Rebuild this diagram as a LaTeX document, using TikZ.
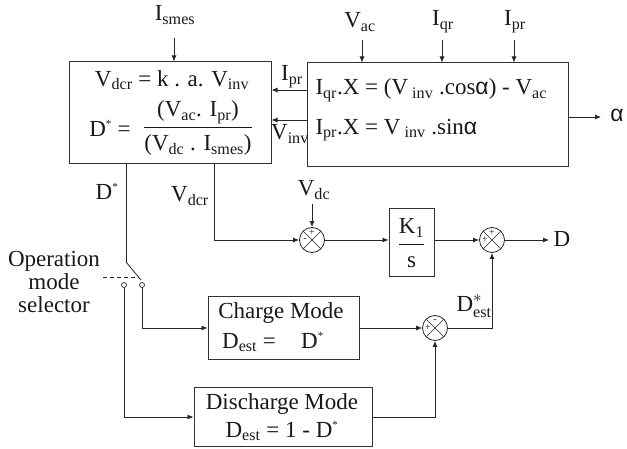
\documentclass[tikz,border=0pt]{standalone}
\usepackage{fontspec}
\setmainfont{Liberation Serif}
\newfontfamily\alphafont{Liberation Sans}
\usepackage{amsmath}
\usetikzlibrary{arrows.meta,calc}
\newcommand{\ssub}[1]{\textsubscript{#1}}
\newcommand{\ssup}[1]{\textsuperscript{\fontsize{11}{11}\selectfont #1}}
\begin{document}
\begin{tikzpicture}[x=1pt,y=-1pt,
  font=\fontsize{23}{25}\selectfont,
  every node/.style={text=black!90},
  blk/.style={draw=black!80, line width=1pt, inner sep=0pt},
  wire/.style={draw=black!85, line width=0.8pt},
  conn/.style={wire, -{Latex[length=6pt,width=5pt]}},
  sgn/.style={font=\fontsize{10}{10}\selectfont, inner sep=0pt},
  sumj/.style={circle, draw=black!85, line width=0.8pt, minimum size=25pt, inner sep=0pt,
    path picture={
      \draw[black!85, line width=0.6pt] ($(path picture bounding box.center)+(45:12.5pt)$) -- ($(path picture bounding box.center)+(225:12.5pt)$);
      \draw[black!85, line width=0.6pt] ($(path picture bounding box.center)+(135:12.5pt)$) -- ($(path picture bounding box.center)+(315:12.5pt)$);
    }},
  contact/.style={circle, draw=black!85, line width=0.7pt, minimum size=5pt, inner sep=0pt, fill=white}
]
\useasboundingbox (0,0) rectangle (627,449);

% ---------- left block ----------
\node[blk, minimum width=202pt, minimum height=102pt] (calc) at (170,113) {};
\node (calc1) at (172,80) {V\ssub{dcr} = k . a. V\ssub{inv}};
\node (calc2) at (110,128) {D\ssup{*} =};
\node (calc3) at (198,128) {$\displaystyle\frac{\text{(V\ssub{ac}. I\ssub{pr})}}{\text{(V\ssub{dc} . I\ssub{smes})}}$};

% ---------- right block ----------
\node[blk, minimum width=261pt, minimum height=104pt] (ctrl) at (437.5,115) {};
\node[anchor=west] (ctrl1) at (312,90) {I\ssub{qr}.X = (V\ssub{ inv} .cos{\alphafont α}) - V\ssub{ac}};
\node[anchor=west] (ctrl2) at (312,130) {I\ssub{pr}.X = V\ssub{ inv} .sin{\alphafont α}};

% ---------- inputs ----------
\node (ismes) at (175,15) {I\ssub{smes}};
\coordinate (ismesA) at (174,38);
\draw[conn] (ismesA) -- (ismesA |- calc.north);

\node (vac) at (360,22) {V\ssub{ac}};
\coordinate (vacA) at (362,40);
\draw[conn] (vacA) -- (vacA |- ctrl.north);
\node (iqr) at (443,22) {I\ssub{qr}};
\coordinate (iqrA) at (442,40);
\draw[conn] (iqrA) -- (iqrA |- ctrl.north);
\node (ipr) at (515,22) {I\ssub{pr}};
\coordinate (iprA) at (514,40);
\draw[conn] (iprA) -- (iprA |- ctrl.north);

% ---------- links between blocks ----------
\coordinate (rowI) at (0,90);
\coordinate (rowV) at (0,120);
\draw[conn] (ctrl.west |- rowI) -- (calc.east |- rowI);
\draw[conn] (ctrl.west |- rowV) -- (calc.east |- rowV);
\node (lipr) at (292,77) {I\ssub{pr}};
\node (lvinv) at (290,134) {V\ssub{inv}};

% alpha output
\coordinate (alA) at (601,117);
\draw[conn] (ctrl.east |- alA) -- (alA);
\node[font=\alphafont\fontsize{23}{25}\selectfont] (alph) at (617,115) {α};

% ---------- D* and switch ----------
\coordinate (piv) at (126,262);
\draw[wire] (calc.south -| piv) -- (piv);
\node (dst) at (107,191) {D\ssup{*}};
\coordinate (blade) at (141,280);
\draw[wire] (piv) -- (blade);
\node[contact] (cl) at (124,285) {};
\node[contact] (cr) at (142,285) {};
\coordinate (dashA) at (103,277);
\coordinate (dashB) at (136,277);
\draw[wire, dashed, dash pattern=on 4pt off 3pt] (dashA) -- (dashB);
\node[align=center, font=\fontsize{23}{23}\selectfont] (sel) at (54,282) {Operation\\mode\\selector};

% ---------- mode blocks ----------
\node[blk, minimum width=151pt, minimum height=62pt] (chg) at (283.5,328) {};
\node (chg1) at (281,313) {Charge Mode};
\node (chg2) at (273,342) {D\ssub{est} =\hspace{1.1em}D\ssup{*}};
\node[blk, minimum width=178pt, minimum height=59pt] (dis) at (283,417) {};
\node (dis1) at (282,404) {Discharge Mode};
\node (dis2) at (282,431) {D\ssub{est} = 1 - D\ssup{*}};

\draw[conn] (cr.south) |- (chg.west);
\draw[conn] (cl.south) |- (dis.west);

% ---------- summing junctions ----------
\node[sumj] (s1) at (312,240) {};
\node[sumj] (s2) at (492,240) {};
\node[sumj] (s3) at (435,328) {};
\node[sgn] (s1t) at ($(s1.center)+(0,-7)$) {+};
\node[sgn] (s1l) at ($(s1.center)+(-7,0)$) {-};
\node[sgn] (s2t) at ($(s2.center)+(0,-7)$) {+};
\node[sgn] (s2l) at ($(s2.center)+(-7,0)$) {+};
\node[sgn] (s3t) at ($(s3.center)+(0,-7)$) {-};
\node[sgn] (s3l) at ($(s3.center)+(-7,0)$) {+};

% Vdcr path
\coordinate (vdx) at (214,0);
\draw[conn] (calc.south -| vdx) |- (s1.west);
\node (vdcr) at (190,196) {V\ssub{dcr}};
% Vdc
\node (vdc) at (314,190) {V\ssub{dc}};
\coordinate (vdcA) at (312,204);
\draw[conn] (vdcA) -- (s1.north);

% K/s block
\node[blk, minimum width=45pt, minimum height=68pt] (kb) at (411.5,243) {};
\node (kbt) at (411.5,243) {$\dfrac{\text{K\ssub{1}}}{\text{s}}$};
\draw[conn] (s1.east) -- (s1.east -| kb.west);
\draw[conn] (kb.east |- s2.west) -- (s2.west);
\coordinate (dA) at (549,240);
\draw[conn] (s2.east) -- (dA);
\node (dout) at (562,239) {D};

% mode outputs
\draw[conn] (chg.east) -- (s3.west);
\draw[conn] (dis.east) -| (s3.south);
\draw[conn] (s3.east) -| (s2.south);
\node (dest) at (474,306) {D$^{*}_{\text{est}}$};
\end{tikzpicture}
\end{document}
